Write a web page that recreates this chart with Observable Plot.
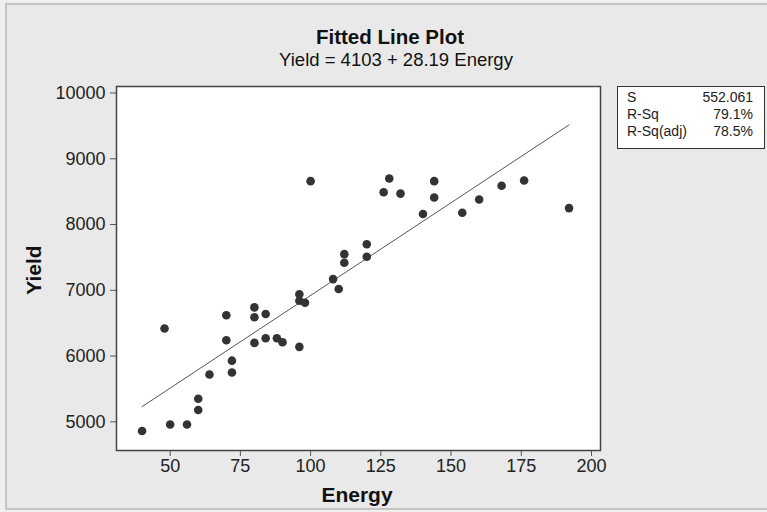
<!DOCTYPE html>
<html>
<head>
<meta charset="utf-8">
<script src="https://cdn.jsdelivr.net/npm/d3@7"></script>
<script src="https://cdn.jsdelivr.net/npm/@observablehq/plot@0.6"></script>
<style>
  html, body { margin: 0; padding: 0; background: #efefef; }
  #wrap { position: relative; width: 767px; height: 512px; overflow: hidden;
          font-family: "Liberation Sans", Arial, Helvetica, sans-serif; color: #111; }
  #bg { position: absolute; left: 5px; top: 3px; width: 800px; height: 503px;
        border-left: 2px solid #c4c4c4; border-top: 2px solid #c4c4c4; border-bottom: 2px solid #c4c4c4;
        background: #e9e9e9; }
  #chart { position: absolute; left: 0; top: 0; }
  .lbl { position: absolute; white-space: nowrap; line-height: 1; }
  #title { left: 390px; top: 27px; transform: translateX(-50%); font-size: 20.5px; font-weight: bold; }
  #subtitle { left: 396px; top: 51px; transform: translateX(-50%); font-size: 18.5px; }
  #xlabel { left: 357px; top: 484px; transform: translateX(-50%); font-size: 21px; font-weight: bold; }
  #ylabel { left: 33px; top: 270px; transform: translate(-50%, -50%) rotate(-90deg); font-size: 21px; font-weight: bold; }
  #stats { position: absolute; left: 617px; top: 86px; width: 146px; height: 59px;
           border: 1px solid #333; background: #fff; box-sizing: content-box; padding-top: 2px; }
  .row { display: flex; justify-content: space-between; padding: 0 11px 0 9px; font-size: 14px; line-height: 17px; color: #222; }
</style>
</head>
<body>
<div id="wrap">
  <div id="bg"></div>
  <div id="chart"></div>
  <div class="lbl" id="title"></div>
  <div class="lbl" id="subtitle"></div>
  <div class="lbl" id="xlabel"></div>
  <div class="lbl" id="ylabel"></div>
  <div id="stats"></div>
</div>
<script>
// ---- data ----
const energy = [40, 48, 50, 56, 60, 60, 64, 70, 70, 72, 72, 80, 80, 80, 84, 84, 88, 90, 96, 96,
                96, 98, 100, 108, 110, 112, 112, 120, 120, 126, 128, 132, 140, 144, 144, 154, 160, 168, 176, 192];
const yieldVals = [4860, 6420, 4960, 4960, 5350, 5180, 5720, 6620, 6240, 5930, 5750, 6740, 6590, 6200, 6640, 6270, 6270, 6210, 6140, 6940,
                   6840, 6810, 8660, 7170, 7020, 7420, 7550, 7700, 7510, 8490, 8700, 8470, 8160, 8660, 8410, 8180, 8380, 8590, 8670, 8250];
const coefficients = [4103, 28.19]; // intercept, slope
const xTicks = [50, 75, 100, 125, 150, 175, 200];
const yTicks = [5000, 6000, 7000, 8000, 9000, 10000];
const statNames = ["S", "R-Sq", "R-Sq(adj)"];
const statValues = ["552.061", "79.1%", "78.5%"];
const titleText = "Fitted Line Plot";
const subtitleText = "Yield = 4103 + 28.19 Energy";
const xLabelText = "Energy";
const yLabelText = "Yield";

// ---- build ----
const points = energy.map((e, i) => ({energy: e, yield: yieldVals[i]}));
const eMin = d3.min(energy), eMax = d3.max(energy);
const fit = [eMin, eMax].map(e => ({energy: e, yield: coefficients[0] + coefficients[1] * e}));

const chart = Plot.plot({
  width: 767,
  height: 512,
  marginLeft: 116,
  marginRight: 167,
  marginTop: 86,
  marginBottom: 62,
  style: {background: "transparent", fontFamily: "'Liberation Sans', Arial, sans-serif", fontSize: "18px", color: "#222"},
  x: {domain: [30.9, 203.2], ticks: xTicks, label: null, tickSize: 6, tickPadding: 3},
  y: {domain: [4564, 10099], ticks: yTicks, label: null, tickSize: 6, tickPadding: 5, tickFormat: d => String(d)},
  marks: [
    Plot.frame({fill: "white"}),
    Plot.axisX({ticks: xTicks, tickSize: 6, tickPadding: 3, stroke: "#555", fontSize: 18, label: null}),
    Plot.axisY({ticks: yTicks, tickSize: 6, tickPadding: 5, stroke: "#555", fontSize: 18, label: null, tickFormat: d => String(d)}),
    Plot.line(fit, {x: "energy", y: "yield", stroke: "#555", strokeWidth: 1}),
    Plot.dot(points, {x: "energy", y: "yield", r: 4.3, fill: "#333", stroke: "none"}),
    Plot.frame({stroke: "#444", strokeWidth: 1.5})
  ]
});
document.getElementById("chart").appendChild(chart);

document.getElementById("title").textContent = titleText;
document.getElementById("subtitle").textContent = subtitleText;
document.getElementById("xlabel").textContent = xLabelText;
document.getElementById("ylabel").textContent = yLabelText;

const stats = document.getElementById("stats");
statNames.forEach((n, i) => {
  const row = document.createElement("div");
  row.className = "row";
  const a = document.createElement("span"); a.textContent = n;
  const b = document.createElement("span"); b.textContent = statValues[i];
  row.appendChild(a); row.appendChild(b);
  stats.appendChild(row);
});
</script>
</body>
</html>
